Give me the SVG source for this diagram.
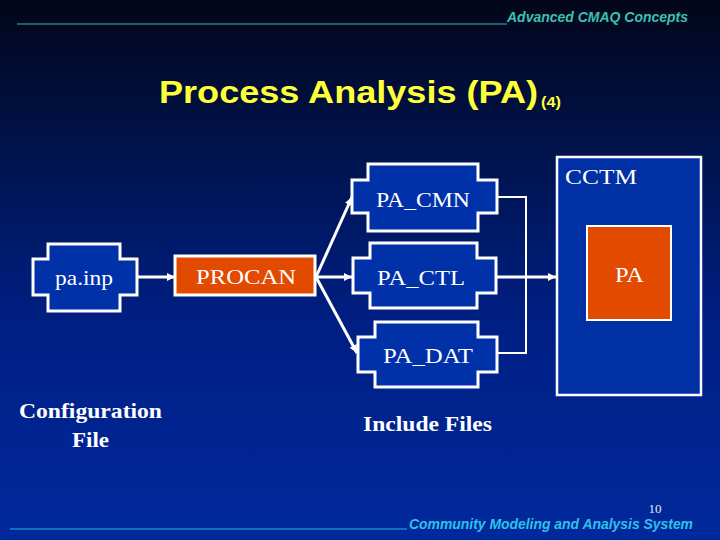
<svg xmlns="http://www.w3.org/2000/svg" width="720" height="540" viewBox="0 0 720 540">
  <defs>
    <linearGradient id="bg" x1="0" y1="0" x2="0" y2="1">
      <stop offset="0" stop-color="#03061a"/>
      <stop offset="0.3" stop-color="#001450"/>
      <stop offset="0.6" stop-color="#001f84"/>
      <stop offset="1" stop-color="#00299c"/>
    </linearGradient>
    <marker id="arr" viewBox="0 0 10 10" refX="10" refY="5" markerWidth="9" markerHeight="8" markerUnits="userSpaceOnUse" orient="auto">
      <path d="M0,0 L10,5 L0,10 Z" fill="#ffffff"/>
    </marker>
    <style>
      .node { fill: #0031a8; stroke: #ffffff; stroke-width: 3; }
      .orange { fill: #e24a00; stroke: #ffffff; stroke-width: 3; }
      .lbl { font-family: "Liberation Serif", "Times New Roman", serif; font-size: 22px; fill: #ffffff; }
      .bold { font-weight: bold; font-size: 21px; }
      .conn { stroke: #ffffff; stroke-width: 3; fill: none; }
      .thin { stroke: #ffffff; stroke-width: 2; fill: none; }
      .hdr { font-family: "Liberation Sans", Arial, sans-serif; font-style: italic; font-weight: bold; font-size: 14px; }
    </style>
  </defs>
  <rect x="0" y="0" width="720" height="540" fill="url(#bg)"/>

  <!-- header -->
  <line x1="17" y1="24" x2="507" y2="24" stroke="#3cb8a8" stroke-width="1"/>
  <text x="507" y="22" class="hdr" fill="#3cc0b0" textLength="181" lengthAdjust="spacingAndGlyphs">Advanced CMAQ Concepts</text>

  <!-- title -->
  <text x="159" y="103" font-family="Liberation Sans, Arial, sans-serif" font-weight="bold" font-size="32" fill="#ffff3a" textLength="379" lengthAdjust="spacingAndGlyphs">Process Analysis (PA)</text>
  <text x="541" y="107" font-family="Liberation Sans, Arial, sans-serif" font-weight="bold" font-size="15" fill="#ffff3a" textLength="20" lengthAdjust="spacingAndGlyphs">(4)</text>

  <!-- connectors -->
  <g id="connectors">
    <line class="conn" x1="137" y1="277" x2="175" y2="277" marker-end="url(#arr)"/>
    <line class="conn" x1="316" y1="277" x2="352" y2="197" marker-end="url(#arr)"/>
    <line class="conn" x1="316" y1="277" x2="352" y2="277" marker-end="url(#arr)"/>
    <line class="conn" x1="316" y1="277" x2="357" y2="353" marker-end="url(#arr)"/>
    <polyline class="thin" points="497,197 526,197 526,353 497,353"/>
    <line class="conn" x1="496" y1="277" x2="556" y2="277" marker-end="url(#arr)"/>
  </g>

  <g id="pa_inp">
    <path class="node" d="M48,244 H120 V259 H137 V295 H120 V311 H48 V295 H33 V259 H48 Z"/>
    <text class="lbl" x="55" y="285" textLength="58" lengthAdjust="spacingAndGlyphs">pa.inp</text>
  </g>

  <g id="procan">
    <rect class="orange" x="175" y="256" width="140" height="39"/>
    <text class="lbl" x="196" y="284" textLength="100" lengthAdjust="spacingAndGlyphs">PROCAN</text>
  </g>

  <g id="pa_cmn">
    <path class="node" d="M368,164 H478 V180 H497 V213 H478 V231 H368 V213 H352 V180 H368 Z"/>
    <text class="lbl" x="376" y="207" textLength="94" lengthAdjust="spacingAndGlyphs">PA_CMN</text>
  </g>

  <g id="pa_ctl">
    <path class="node" d="M370,243 H477 V258 H496 V293 H477 V308 H370 V293 H353 V258 H370 Z"/>
    <text class="lbl" x="377" y="285" textLength="88" lengthAdjust="spacingAndGlyphs">PA_CTL</text>
  </g>

  <g id="pa_dat">
    <path class="node" d="M375,322 H478 V337 H497 V372 H478 V387 H375 V372 H358 V337 H375 Z"/>
    <text class="lbl" x="383" y="363" textLength="90" lengthAdjust="spacingAndGlyphs">PA_DAT</text>
  </g>

  <g id="cctm">
    <rect x="557" y="157" width="144" height="238" fill="#0030a4" stroke="#ffffff" stroke-width="2.5"/>
    <text class="lbl" x="565" y="184" textLength="72" lengthAdjust="spacingAndGlyphs">CCTM</text>
  </g>

  <g id="pa">
    <rect x="587" y="226" width="84" height="94" fill="#e24a00" stroke="#ffffff" stroke-width="2"/>
    <text class="lbl" x="615" y="282" textLength="29" lengthAdjust="spacingAndGlyphs">PA</text>
  </g>

  <g id="captions">
    <text class="lbl bold" x="19" y="418" textLength="143" lengthAdjust="spacingAndGlyphs">Configuration</text>
    <text class="lbl bold" x="72" y="447" textLength="37" lengthAdjust="spacingAndGlyphs">File</text>
    <text class="lbl bold" x="363" y="431" textLength="129" lengthAdjust="spacingAndGlyphs">Include Files</text>
  </g>

  <!-- footer -->
  <text x="655" y="513" font-family="Liberation Serif, Times New Roman, serif" font-size="13" fill="#e8e8e8" text-anchor="middle">10</text>
  <line x1="10" y1="529" x2="407" y2="529" stroke="#28b4e0" stroke-width="1"/>
  <text x="409" y="529" class="hdr" fill="#30c0e8" textLength="284" lengthAdjust="spacingAndGlyphs">Community Modeling and Analysis System</text>
</svg>
